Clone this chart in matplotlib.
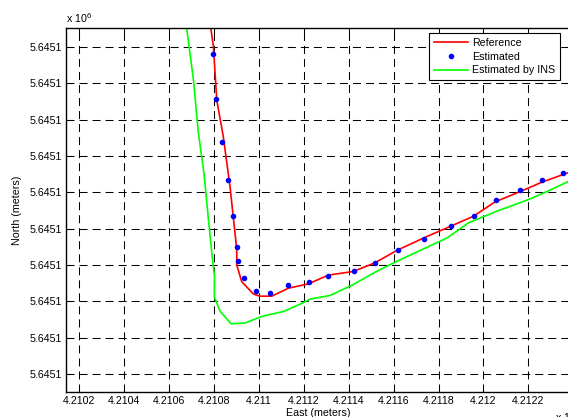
import matplotlib
matplotlib.use('Agg')
import matplotlib.pyplot as plt

# Figure size in pixels
W, H, DPI = 568, 417, 100

plt.rcParams['font.family'] = ['Liberation Sans', 'DejaVu Sans']
plt.rcParams['font.size'] = 7.7
plt.rcParams['mathtext.default'] = 'regular'

# Reference trajectory (meters, UTM)
ref_east = [421078.0, 421079.7, 421081.2, 421084.1, 421087.1, 421089.0, 421090.1,
            421090.1, 421092.3, 421097.5, 421100.5, 421105.7, 421113.1, 421122.0,
            421130.9, 421142.0, 421151.7, 421161.4, 421173.2, 421185.1, 421195.5,
            421205.2, 421216.3, 421226.0, 421237.7, 421243.0]
ref_north = [5645148.8, 5645145.1, 5645137.7, 5645132.7, 5645125.8, 5645120.3, 5645117.1,
             5645115.0, 5645112.7, 5645111.0, 5645110.7, 5645110.7, 5645111.8, 5645112.4,
             5645113.6, 5645114.1, 5645115.3, 5645117.0, 5645118.7, 5645120.3, 5645121.7,
             5645123.7, 5645125.1, 5645126.4, 5645127.7, 5645128.2]

# Estimated positions
est_east = [421079.4, 421080.9, 421083.6, 421086.2, 421088.5, 421090.4, 421090.8,
            421093.5, 421098.8, 421104.9, 421113.1, 421122.2, 421130.9, 421142.2,
            421151.7, 421161.8, 421173.5, 421185.4, 421195.8, 421205.6, 421216.3,
            421226.1, 421235.3]
est_north = [5645144.1, 5645137.9, 5645132.0, 5645126.7, 5645121.7, 5645117.5, 5645115.5,
             5645113.2, 5645111.4, 5645111.2, 5645112.3, 5645112.6, 5645113.5, 5645114.1,
             5645115.3, 5645117.1, 5645118.6, 5645120.4, 5645121.7, 5645124.0, 5645125.3,
             5645126.7, 5645127.6]

# Estimated by INS only
ins_east = [421067.3, 421070.8, 421073.0, 421075.5, 421077.5, 421079.0, 421080.2,
            421080.1, 421082.7, 421087.6, 421093.8, 421101.2, 421110.9, 421119.1,
            421122.8, 421131.7, 421142.0, 421151.7, 421161.4, 421173.2, 421183.7,
            421193.3, 421205.9, 421220.0, 421228.2, 421237.8, 421243.0]
ins_north = [5645148.8, 5645140.5, 5645133.2, 5645127.6, 5645121.2, 5645116.6, 5645113.4,
             5645110.6, 5645108.6, 5645106.9, 5645107.0, 5645107.9, 5645108.6, 5645109.7,
             5645110.3, 5645110.8, 5645112.3, 5645114.0, 5645115.5, 5645117.2, 5645118.7,
             5645120.8, 5645122.4, 5645124.0, 5645125.1, 5645126.5, 5645127.3]

# Axis ticks
x_ticks = [421020, 421040, 421060, 421080, 421100, 421120, 421140,
           421160, 421180, 421200, 421220]
y_ticks = [5645100, 5645105, 5645110, 5645115, 5645120,
           5645125, 5645130, 5645135, 5645140, 5645145]

x_labels = [('%.4f' % (v / 1e5)).rstrip('0') for v in x_ticks]
y_labels = ['%.4f' % (v / 1e6) for v in y_ticks]

# Plot
#---------------------------------------------
fig = plt.figure(figsize=(W / DPI, H / DPI), dpi=DPI)
left, right, top, bottom = 65.7, 571.0, 28.3, 392.0
ax = fig.add_axes([left / W, (H - bottom) / H, (right - left) / W, (bottom - top) / H])

ax.plot(ref_east, ref_north, color='#ff0000', linewidth=1.2, label='Reference')
ax.plot(est_east, est_north, linestyle='none', marker='o', markersize=3.0,
        color='#0000ff', label='Estimated')
ax.plot(ins_east, ins_north, color='#00ff00', linewidth=1.2, label='Estimated by INS')

ax.set_xlim(421013.9, 421239.0)
ax.set_ylim(5645097.5, 5645147.6)
ax.set_xticks(x_ticks)
ax.set_xticklabels(x_labels)
ax.set_yticks(y_ticks)
ax.set_yticklabels(y_labels)

ax.tick_params(direction='in', length=4, width=0.75, top=True, right=True, pad=3)
ax.grid(True, color='black', linewidth=0.75, linestyle=(0, (7.7, 4.8)))
for s in ax.spines.values():
    s.set_linewidth(1.0)

ax.set_xlabel('East (meters)', labelpad=1)
ax.set_ylabel('North (meters)', labelpad=5)

# Offset labels like MATLAB
fig.text(left / W, 1 - 23.0 / H, r'x 10$^6$', ha='left', va='baseline')
fig.text(555 / W, 1 - 422.0 / H, r'x 10$^5$', ha='left', va='baseline')

leg = ax.legend(loc='upper left', bbox_to_anchor=(429 / W, 1 - 33 / H),
                bbox_transform=fig.transFigure, borderaxespad=0, fancybox=False,
                edgecolor='black', framealpha=1, handlelength=3.2,
                handletextpad=0.4, labelspacing=0.35, borderpad=0.45)
leg.get_frame().set_linewidth(0.8)

fig.savefig('out.png', dpi=DPI)
